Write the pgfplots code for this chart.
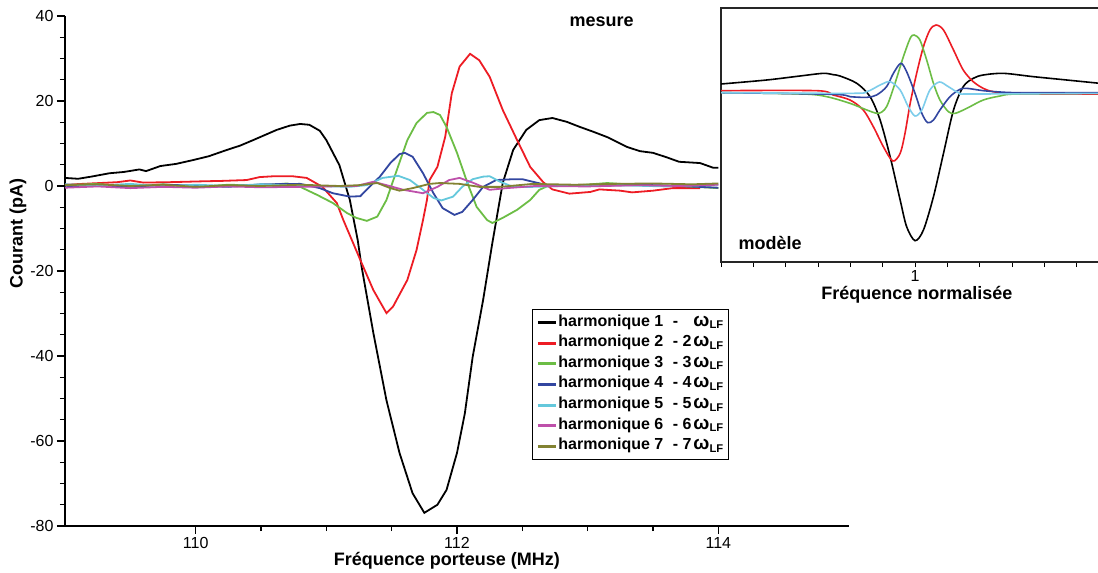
\documentclass[border=0pt]{standalone}
\usepackage{pgfplots}
\pgfplotsset{compat=1.18}
\usepackage{fontspec}
\setmainfont{Liberation Sans}
\definecolor{cRed}{RGB}{237,28,36}
\definecolor{cGreen}{RGB}{108,189,69}
\definecolor{cBlue}{RGB}{50,70,160}
\definecolor{cCyan}{RGB}{100,200,220}
\definecolor{cCyanL}{RGB}{125,205,235}
\definecolor{cMag}{RGB}{190,80,170}
\definecolor{cOlive}{RGB}{130,130,50}
\newcommand\hm[2]{harmonique #1\hspace{0.6em}-\hspace{0.25em}\makebox[0.6em][c]{#2}\hspace{0.1em}{\fontsize{19}{19}\selectfont ω}\textsubscript{LF}}
\begin{document}
\begin{tikzpicture}
\useasboundingbox (0pt,0pt) rectangle (1098pt,-573pt);
\begin{axis}[
  at={(65pt,-526pt)}, anchor=south west,
  width=784pt, height=510pt, scale only axis,
  xmin=109, xmax=115, ymin=-80, ymax=40,
  axis lines=left, axis line style={-, line width=1.5pt},
  xtick={110,112,114}, minor x tick num=3,
  ytick={-80,-60,-40,-20,0,20,40},
  yticklabels={-80,-60,-40,-20,0,20,40},
  minor y tick num=3,
  tick align=outside, major tick length=8pt, minor tick length=5pt,
  tick style={black, line width=1.1pt},
  /pgf/number format/assume math mode=true,
  ticklabel style={font=\fontsize{16}{19}\selectfont},
  xlabel={Fréquence porteuse (MHz)},
  ylabel={Courant (pA)},
  label style={font=\bfseries\fontsize{18}{21}\selectfont},
  xlabel style={at={(axis description cs:0.487,-0.0686)}, anchor=center},
  ylabel style={at={(axis description cs:-0.06,0.573)}, anchor=center},
  every axis plot/.append style={line width=1.8pt},
  legend cell align=left,
  legend image code/.code={\draw[#1, line width=3pt] (0pt,0pt) -- (18pt,0pt);},
  legend style={at={(0.5957,0.4255)}, anchor=north west, draw=black, line width=0.8pt,
    font=\bfseries\fontsize{16}{19}\selectfont,
    nodes={inner sep=1pt, text height=12.8pt, text depth=5.8pt},
    inner xsep=4pt, inner ysep=3pt},
]
\addplot[black] coordinates {
(109.00,1.9)(109.10,1.7)(109.20,2.2)(109.34,3.0)(109.45,3.3)(109.57,3.9)(109.62,3.5)
(109.73,4.7)(109.85,5.2)(109.98,6.1)(110.10,7.0)(110.24,8.5)(110.34,9.5)(110.44,10.8)
(110.53,12.0)(110.62,13.2)(110.72,14.2)(110.80,14.6)(110.87,14.4)(110.95,13.0)(111.00,10.8)
(111.10,4.9)(111.18,-3.3)(111.24,-12.7)(111.27,-19.0)(111.36,-34.6)(111.46,-50.4)
(111.56,-62.8)(111.66,-72.3)(111.75,-76.9)(111.85,-75.0)(111.92,-71.5)(112.00,-62.8)
(112.06,-53.5)(112.12,-40.2)(112.20,-26.8)(112.27,-13.5)(112.35,0.7)(112.43,8.5)
(112.53,13.2)(112.63,15.5)(112.73,16.0)(112.84,15.1)(112.94,13.9)(113.04,12.8)(113.15,11.5)
(113.30,9.2)(113.40,8.2)(113.50,7.8)(113.60,6.8)(113.70,5.7)(113.86,5.4)(113.96,4.3)(114.00,4.3)
};
\addlegendentry{\hm{1}{}}
\addplot[cRed] coordinates {
(109.00,0.3)(109.20,0.6)(109.40,0.9)(109.50,1.3)(109.60,0.8)(109.80,0.9)(110.05,1.1)
(110.20,1.2)(110.39,1.4)(110.49,2.1)(110.60,2.3)(110.74,2.3)(110.85,1.9)(110.97,-0.2)
(111.08,-4.0)(111.13,-8.0)(111.26,-17.4)(111.36,-24.5)(111.46,-29.9)(111.51,-28.4)
(111.62,-22.1)(111.69,-15.1)(111.74,-8.0)(111.77,-3.3)(111.79,1.4)(111.85,4.5)(111.91,11.6)
(111.96,21.8)(112.02,28.1)(112.10,31.1)(112.17,29.6)(112.25,25.7)(112.35,17.9)(112.46,10.8)
(112.56,4.5)(112.66,0.9)(112.73,-0.8)(112.86,-1.8)(113.02,-1.4)(113.09,-0.8)(113.25,-1.1)
(113.34,-1.5)(113.50,-1.1)(113.65,-0.5)(113.86,-0.5)
};
\addlegendentry{\hm{2}{2}}
\addplot[cGreen] coordinates {
(109.00,0.2)(109.25,0.5)(109.50,-0.3)(109.75,0.4)(110.00,-0.2)(110.25,0.3)(110.50,0.1)
(110.70,0.6)(110.80,-0.2)(110.93,-2.1)(111.05,-4.0)(111.16,-6.4)(111.23,-7.5)(111.31,-8.2)
(111.39,-7.2)(111.46,-3.3)(111.54,3.8)(111.62,10.8)(111.69,14.8)(111.77,17.2)(111.82,17.4)
(111.87,16.7)(111.92,13.9)(112.00,7.8)(112.08,0.7)(112.15,-4.9)(112.23,-8.0)(112.27,-8.7)
(112.35,-7.5)(112.46,-5.6)(112.56,-3.3)(112.63,-0.9)(112.71,0.2)(112.90,0.1)(113.15,0.7)
(113.40,0.2)(113.70,0.0)(114.00,-0.5)
};
\addlegendentry{\hm{3}{3}}
\addplot[cBlue] coordinates {
(109.00,-0.3)(109.25,0.2)(109.50,-0.2)(109.75,0.3)(110.00,0.1)(110.25,-0.2)(110.50,0.4)
(110.80,0.5)(110.95,-0.5)(111.05,-1.7)(111.18,-2.5)(111.26,-2.4)(111.33,-0.2)(111.41,2.2)
(111.49,5.4)(111.56,7.5)(111.60,7.8)(111.66,6.9)(111.74,3.0)(111.82,-1.7)(111.89,-5.2)
(111.98,-6.8)(112.04,-6.1)(112.12,-3.3)(112.20,-0.2)(112.30,1.4)(112.43,1.6)(112.50,1.6)
(112.58,1.0)(112.69,0.2)(113.00,0.0)(113.40,0.3)(113.70,0.0)(114.00,-0.4)
};
\addlegendentry{\hm{4}{4}}
\addplot[cCyan] coordinates {
(109.00,0.4)(109.25,0.1)(109.50,0.5)(109.75,-0.1)(110.00,0.3)(110.25,0.0)(110.50,0.4)
(110.80,0.1)(111.18,-0.2)(111.31,0.2)(111.43,1.9)(111.55,2.4)(111.64,1.4)(111.74,-0.9)
(111.82,-2.8)(111.88,-3.4)(111.97,-2.5)(112.04,-0.2)(112.12,1.6)(112.20,2.2)(112.25,2.3)
(112.33,1.0)(112.43,-0.2)(112.58,-0.2)(112.80,0.0)(113.20,0.2)(113.60,-0.1)(114.00,0.3)
};
\addlegendentry{\hm{5}{5}}
\addplot[cMag] coordinates {
(109.00,-0.4)(109.25,-0.1)(109.50,-0.5)(109.75,-0.2)(110.00,-0.4)(110.25,-0.1)(110.50,-0.3)
(110.80,-0.2)(111.00,-0.1)(111.23,0.0)(111.36,1.0)(111.46,0.2)(111.59,-0.9)(111.74,-1.7)
(111.85,-0.2)(111.94,1.4)(112.02,1.9)(112.12,0.8)(112.25,-0.9)(112.38,-0.5)(112.60,0.0)
(113.00,-0.1)(113.40,0.2)(113.70,0.0)(114.00,0.3)
};
\addlegendentry{\hm{6}{6}}
\addplot[cOlive] coordinates {
(109.00,0.2)(109.25,0.4)(109.50,0.0)(109.75,0.3)(110.00,-0.2)(110.25,0.2)(110.50,0.0)
(110.80,0.3)(111.10,0.0)(111.25,0.2)(111.39,0.7)(111.49,-0.5)(111.56,-1.1)(111.66,-0.5)
(111.79,0.5)(111.87,0.7)(112.02,0.5)(112.17,-0.2)(112.33,-0.2)(112.58,0.5)(112.90,0.3)
(113.20,0.5)(113.50,0.6)(113.80,0.4)(114.00,0.6)
};
\addlegendentry{\hm{7}{7}}
\node[font=\bfseries\fontsize{18}{21}\selectfont] at (axis cs:113.107,38.6) {mesure};
\end{axis}
\begin{axis}[
  at={(721pt,-262pt)}, anchor=south west,
  width=379pt, height=254pt, scale only axis,
  xmin=-6, xmax=5.72, ymin=-50.8, ymax=25.4,
  axis background/.style={fill=white},
  axis line style={line width=1.1pt, black!85},
  xtick={0}, xticklabels={1},
  minor xtick={-6,-5,...,5},
  ytick=\empty,
  xtick pos=bottom,
  tick align=outside, major tick length=5pt, minor tick length=5pt,
  tick style={black, line width=0.8pt},
  ticklabel style={font=\fontsize{16}{19}\selectfont},
  xlabel={Fréquence normalisée},
  xlabel style={font=\bfseries\fontsize{18}{21}\selectfont, at={(axis description cs:0.517,-0.13)}, anchor=center},
  every axis plot/.append style={line width=1.6pt, smooth, tension=0.5},
]
\addplot[black] coordinates {
(-6.0,2.6)(-4.59,3.8)(-3.56,5.0)(-2.84,5.8)(-2.53,5.4)(-2.32,5.0)(-1.80,2.8)(-1.39,-1.2)
(-1.08,-8.2)(-0.77,-19.2)(-0.46,-32.2)(-0.26,-40.2)(0,-44.4)(0.26,-41.2)(0.57,-31.2)
(0.88,-18.2)(1.19,-5.2)(1.49,1.8)(1.80,4.3)(2.11,5.3)(2.73,5.8)(3.66,4.8)(4.69,3.8)(5.72,2.8)
};
\addplot[cRed] coordinates {
(-6,0.6)(-3.04,0.6)(-2.53,-0.7)(-2.01,-2.2)(-1.60,-5.2)(-1.29,-10.2)(-0.98,-16.2)(-0.69,-20.5)
(-0.46,-18.2)(-0.31,-12.2)(-0.15,-3.2)(0.05,5.8)(0.26,13.8)(0.46,18.8)(0.65,20.3)(0.88,18.8)
(1.19,12.8)(1.49,6.8)(1.80,3.3)(2.11,1.3)(2.42,0.3)(3.14,-0.4)(5.72,-0.4)
};
\addplot[cGreen] coordinates {
(-6,0)(-3.45,-0.4)(-2.73,-1.2)(-2.01,-3.2)(-1.49,-5.2)(-1.13,-6.2)(-0.88,-4.2)(-0.62,2.8)
(-0.36,10.8)(-0.15,16.3)(-0.03,17.3)(0.15,15.8)(0.36,9.8)(0.57,2.8)(0.77,-2.2)(1.03,-5.7)
(1.24,-6.2)(1.60,-4.7)(2.11,-2.2)(2.63,-1.0)(3.14,-0.4)(5.72,-0.2)
};
\addplot[cBlue] coordinates {
(-6,0)(-2.53,-0.5)(-2.01,-1.2)(-1.49,-1.4)(-1.19,-0.7)(-0.88,1.8)(-0.67,5.8)(-0.44,8.8)
(-0.26,6.3)(0,-0.2)(0.21,-6.2)(0.39,-9.0)(0.57,-8.2)(0.77,-5.2)(1.08,-1.2)(1.39,1.0)
(1.60,1.3)(2.11,0.6)(2.63,0.2)(3.25,0)(5.72,0)
};
\addplot[cCyanL] coordinates {
(-6,0)(-2.01,-0.2)(-1.49,0.3)(-1.08,2.3)(-0.77,3.3)(-0.46,0.8)(-0.21,-4.2)(0,-7.0)
(0.21,-5.2)(0.46,0.8)(0.75,3.2)(1.03,1.8)(1.39,-0.2)(1.80,-0.4)(5.72,-0.2)
};
\node[font=\bfseries\fontsize{18}{21}\selectfont] at (axis cs:-4.48,-45.1) {modèle};
\end{axis}
\end{tikzpicture}
\end{document}
